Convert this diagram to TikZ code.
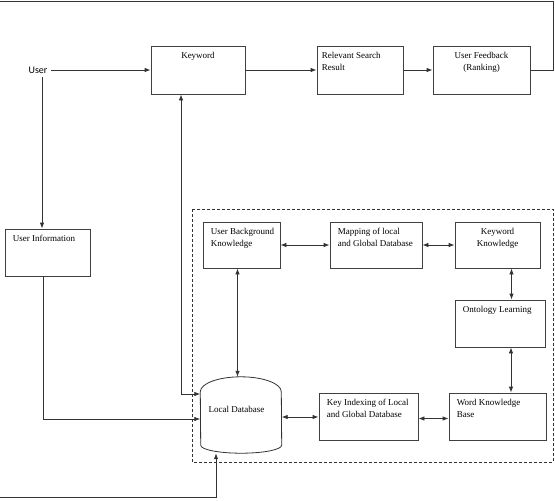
\documentclass[tikz,border=0pt]{standalone}
\usepackage{fontspec}
\setmainfont{Liberation Serif}
\newfontfamily\userfont{Carlito}
\usetikzlibrary{positioning, arrows.meta, calc}

\tikzset{
    box/.style={draw=black!75, line width=0.8pt, rectangle},
    lbl/.style={anchor=north west, align=left, inner sep=0pt, xshift=8pt, yshift=-6pt},
    clbl/.style={anchor=north, align=center, inner sep=0pt, yshift=-6pt},
    arr/.style={draw=black!80, line width=0.8pt, -{Latex[length=6pt,width=4.5pt]}},
    dbl/.style={draw=black!80, line width=0.8pt, {Latex[length=6pt,width=4.5pt]}-{Latex[length=6pt,width=4.5pt]}},
    plain/.style={draw=black!80, line width=0.8pt}
}

\begin{document}
\begin{tikzpicture}[x=1pt, y=-1pt, every node/.style={font=\fontsize{9}{12.3}\selectfont}]
    \useasboundingbox (0,0) rectangle (555,501);

    % Top row
    \node[font=\userfont\fontsize{10}{12}\selectfont] (user) at (38,70) {User};
    \node[box, minimum width=94pt, minimum height=48pt, label={[clbl]north:Keyword}] (kw) at (198,70) {};
    \node[box, minimum width=86pt, minimum height=48pt, label={[lbl, xshift=-3pt]north west:{Relevant Search\\Result}}] (rsr) at (360,70) {};
    \node[box, minimum width=97pt, minimum height=48pt, label={[clbl]north:{User Feedback\\(Ranking)}}] (uf) at (481.5,70) {};

    % User information
    \node[box, minimum width=85pt, minimum height=47pt, label={[lbl]north west:User Information}] (ui) at (47.5,252.5) {};

    % Knowledge part
    \draw[plain, dash pattern=on 3pt off 2pt] (192,209) rectangle (553,462);
    \node[box, minimum width=77pt, minimum height=46pt, label={[lbl]north west:{User Background\\Knowledge}}] (ubk) at (241.5,245) {};
    \node[box, minimum width=92pt, minimum height=46pt, label={[lbl]north west:{Mapping of local\\and Global Database}}] (map) at (376,245) {};
    \node[box, minimum width=85pt, minimum height=46pt, label={[clbl]north:{Keyword\\Knowledge}}] (kk) at (497.5,245) {};
    \node[box, minimum width=90pt, minimum height=47pt, label={[lbl]north west:Ontology Learning}] (ol) at (500,323.5) {};
    \node[box, minimum width=97pt, minimum height=47pt, label={[lbl]north west:{Word Knowledge\\Base}}] (wkb) at (497.5,416.5) {};
    \node[box, minimum width=99pt, minimum height=47pt, label={[lbl]north west:{Key Indexing of Local\\and Global Database}}] (ki) at (368.5,416.5) {};

    % Local database (drum)
    \node[minimum width=81pt, minimum height=76pt, inner sep=0pt] (ldb) at (241,415) {};
    \draw[plain, fill=white] ($(ldb.north west)+(0,15)$) arc[start angle=180, end angle=0, x radius=40.5pt, y radius=15pt]
        -- ($(ldb.south east)+(0,-8)$) arc[start angle=0, end angle=-180, x radius=40.5pt, y radius=8pt] -- cycle;
    \node[anchor=west] (ldbtxt) at (205,409) {Local Database};

    % Flow
    \draw[arr] (user.east) -- (kw.west);
    \draw[arr] (kw.east) -- (rsr.west);
    \draw[arr] (rsr.east) -- (uf.west);
    \draw[arr] ([xshift=4pt]user.south) -- ([xshift=4pt]user.south |- ui.north);
    \draw[arr] ([xshift=-4pt]ui.south) |- ([yshift=-4pt]ldb.west);
    \draw[dbl] ([xshift=-17pt]kw.south) |- ([yshift=21pt]ldb.west);

    % Knowledge links
    \draw[dbl] ([xshift=-4pt]ubk.south) -- ([xshift=-4pt]ubk.south |- ldb.north);
    \draw[dbl] (ubk.east) -- (map.west);
    \draw[dbl] (map.east) -- (kk.west);
    \draw[dbl] ([xshift=14pt]kk.south) -- ([xshift=14pt]kk.south |- ol.north);
    \draw[dbl] ([xshift=11pt]ol.south) -- ([xshift=11pt]ol.south |- wkb.north);
    \draw[dbl] ([yshift=-2pt]ldb.east) -- ([yshift=-2pt]ldb.east -| ki.west);
    \draw[dbl] ([yshift=-2pt]ki.east) -- ([yshift=-2pt]ki.east -| wkb.west);

    % Feedback loop
    \coordinate (fbtop) at (0,1.5);
    \coordinate (fbbot) at (0,497);
    \draw[plain] (uf.east) -- ++(23,0) |- (fbtop);
    \draw[arr] (fbbot) -| ([xshift=-25pt]ldb.south);
\end{tikzpicture}
\end{document}
